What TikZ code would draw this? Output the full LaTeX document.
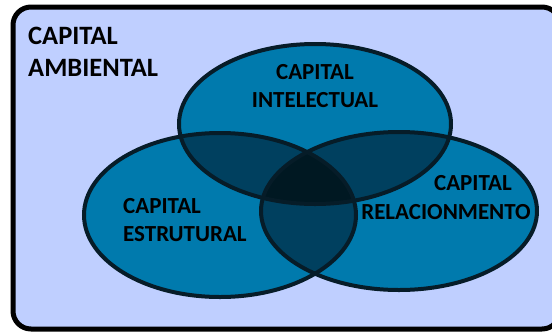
\documentclass[tikz,border=0pt]{standalone}
\usepackage{fontspec}
\setmainfont{Carlito}
\definecolor{bgblue}{HTML}{BFCFFF}
\definecolor{setblue}{HTML}{007AAD}
\definecolor{pairblue}{HTML}{00405F}
\definecolor{coreblue}{HTML}{001822}
\definecolor{rimblue}{HTML}{061C28}
\newcommand\intset{(315,124) ellipse [x radius=136, y radius=80]}
\newcommand\estset{(220,215) ellipse [x radius=136, y radius=82]}
\newcommand\relset{(399,211) ellipse [x radius=138, y radius=79]}

\begin{document}
\begin{tikzpicture}[x=1pt, y=-1pt,
    rim/.style={line width=4pt, draw=rimblue},
    lbl/.style={font=\fontsize{23}{28}\selectfont\bfseries, inner sep=0pt}]
  \useasboundingbox (0,0) rectangle (552,333);
  % frame
  \draw[line width=5pt, fill=bgblue, rounded corners=18pt] (13,7) rectangle (560,329);

  % sets
  \fill[setblue] \intset;
  \fill[setblue] \estset;
  \fill[setblue] \relset;

  % pairwise overlaps
  \begin{scope}
    \clip \intset;
    \fill[pairblue] \estset;
    \fill[pairblue] \relset;
  \end{scope}
  \begin{scope}
    \clip \estset;
    \fill[pairblue] \relset;
  \end{scope}
  % core
  \begin{scope}
    \clip \intset;
    \clip \estset;
    \fill[coreblue] \relset;
  \end{scope}

  % outlines
  \draw[rim] \intset;
  \draw[rim] \estset;
  \draw[rim] \relset;

  % labels
  \node[lbl, font=\fontsize{26.5}{32}\selectfont\bfseries, align=left, anchor=west] (amb) at (28,52) {CAPITAL\\AMBIENTAL};
  \node[lbl, align=center] (int) at (315,86) {CAPITAL\\INTELECTUAL};
  \node[lbl, align=left, anchor=west] (est) at (123,220) {CAPITAL\\ESTRUTURAL};
  \node[lbl] (relcap) at (473,183) {CAPITAL};
  \node[lbl] (rel) at (446,212) {RELACIONMENTO};
\end{tikzpicture}
\end{document}
